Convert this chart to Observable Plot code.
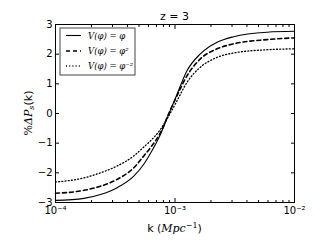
<!DOCTYPE html>
<html><head><meta charset="utf-8">
<script src="https://cdn.jsdelivr.net/npm/d3@7"></script>
<script src="https://cdn.jsdelivr.net/npm/@observablehq/plot@0.6"></script>
<style>body{margin:0;background:#fff} svg{display:block}</style>
</head><body><div id="chart"></div>
<script>
// wavenumber k (Mpc^-1)
const k = [1.0e-4, 1.73e-4, 2.38e-4, 3.28e-4, 4.52e-4, 5.48e-4, 6.24e-4, 7.57e-4, 8.87e-4, 1.04e-3, 1.26e-3, 1.63e-3, 2.25e-3, 3.10e-3, 5.90e-3, 1.0e-2];
// % Delta P_s(k) for each potential
const dpPhi   = [-2.93, -2.86, -2.73, -2.50, -2.11, -1.71, -1.34, -0.70, -0.02, 0.65, 1.44, 2.01, 2.40, 2.59, 2.74, 2.77];
const dpPhi2  = [-2.69, -2.59, -2.45, -2.22, -1.83, -1.43, -1.15, -0.64, 0.00, 0.60, 1.27, 1.84, 2.18, 2.35, 2.49, 2.55];
const dpPhiM2 = [-2.31, -2.17, -2.00, -1.77, -1.43, -1.13, -0.92, -0.53, -0.08, 0.43, 1.05, 1.56, 1.89, 2.04, 2.15, 2.18];
const seriesNames = ["V(φ) = φ", "V(φ) = φ²", "V(φ) = φ⁻²"];
const title = "z = 3";
const xTicks = [1e-4, 1e-3, 1e-2];
const xTickLabels = ["10⁻⁴", "10⁻³", "10⁻²"];
const xMinor = [2,3,4,5,6,7,8,9].flatMap(m => [m * 1e-4, m * 1e-3]);
const yTicks = [-3, -2, -1, 0, 1, 2, 3];
const yTickLabels = ["−3", "−2", "−1", "0", "1", "2", "3"];

const allSeries = [dpPhi, dpPhi2, dpPhiM2];
const data = allSeries.flatMap((vals, s) => k.map((kk, i) => ({k: kk, v: vals[i], s})));
const styles = [
  {strokeWidth: 1.1, strokeDasharray: null},
  {strokeWidth: 1.6, strokeDasharray: "4,3"},
  {strokeWidth: 1.3, strokeDasharray: "1,2.2"}
];

const lineMarks = styles.map((st, s) => Plot.line(data.filter(d => d.s === s), {
  x: "k", y: "v", curve: "monotone-x", stroke: "black",
  strokeWidth: st.strokeWidth, strokeDasharray: st.strokeDasharray
}));

const font = "DejaVu Sans";
const chart = Plot.plot({
  width: 327, height: 245,
  marginLeft: 55, marginRight: 33, marginTop: 24, marginBottom: 43,
  style: {fontFamily: font, fontSize: "10px", background: "white", color: "black", overflow: "visible"},
  x: {type: "log", domain: [1e-4, 1e-2]},
  y: {domain: [-3, 3]},
  marks: [
    ...lineMarks,
    Plot.frame({stroke: "black", strokeWidth: 1}),
    Plot.axisX(xTicks, {anchor: "bottom", tickSize: 0, tickPadding: 4.5, tickFormat: (d) => xTickLabels[xTicks.indexOf(d)], label: null, fontSize: 10}),
    Plot.axisX(xTicks, {anchor: "bottom", tickSize: -4, tickFormat: () => "", label: null}),
    Plot.axisX(xMinor, {anchor: "bottom", tickSize: -2, tickFormat: () => "", label: null}),
    Plot.axisX(xTicks, {anchor: "top", tickSize: -4, tickFormat: () => "", label: null}),
    Plot.axisX(xMinor, {anchor: "top", tickSize: -2, tickFormat: () => "", label: null}),
    Plot.axisY(yTicks, {anchor: "left", tickSize: 0, tickPadding: 3, tickFormat: (d) => yTickLabels[yTicks.indexOf(d)], label: null, fontSize: 10}),
    Plot.axisY(yTicks, {anchor: "left", tickSize: -4, tickFormat: () => "", label: null}),
    Plot.axisY(yTicks, {anchor: "right", tickSize: -4, tickFormat: () => "", label: null})
  ]
});
document.getElementById("chart").appendChild(chart);

const svg = d3.select(chart);
const sx = chart.scale("x"), sy = chart.scale("y");
const cx = (sx.apply(1e-4) + sx.apply(1e-2)) / 2;
// title
svg.append("text").attr("x", cx).attr("y", 20).attr("text-anchor", "middle")
  .attr("font-family", font).attr("font-size", 11).text(title);
// x label
const xl = svg.append("text").attr("x", cx).attr("y", 232).attr("text-anchor", "middle")
  .attr("font-family", font).attr("font-size", 11);
xl.append("tspan").text("k (");
xl.append("tspan").attr("font-family", "DejaVu Serif").attr("font-style", "italic").text("Mpc");
xl.append("tspan").attr("font-family", "DejaVu Serif").attr("font-size", 8).attr("dy", -4).text("−1");
xl.append("tspan").attr("dy", 4).text(")");
// y label
const cy = (sy.apply(-3) + sy.apply(3)) / 2;
const yl = svg.append("text").attr("transform", `translate(32,${cy}) rotate(-90)`).attr("text-anchor", "middle")
  .attr("font-family", font).attr("font-size", 11);
yl.append("tspan").attr("font-family", "DejaVu Serif").text("%");
yl.append("tspan").attr("font-family", "DejaVu Serif").attr("font-style", "italic").text("ΔP");
yl.append("tspan").attr("font-family", "DejaVu Serif").attr("font-style", "italic").attr("font-size", 8).attr("dy", 2).text("s");
yl.append("tspan").attr("dy", -2).text("(k)");
// legend
const lg = svg.append("g");
lg.append("rect").attr("x", 60).attr("y", 28).attr("width", 75).attr("height", 47)
  .attr("fill", "white").attr("stroke", "#444").attr("stroke-width", 1);
const rows = [35.5, 51, 66];
seriesNames.forEach((name, s) => {
  lg.append("line").attr("x1", 66).attr("x2", 81).attr("y1", rows[s]).attr("y2", rows[s])
    .attr("stroke", "black").attr("stroke-width", styles[s].strokeWidth)
    .attr("stroke-dasharray", styles[s].strokeDasharray);
  lg.append("text").attr("x", 88).attr("y", rows[s] + 3).attr("text-anchor", "start")
    .attr("font-family", "DejaVu Serif").attr("font-style", "italic").attr("font-size", 8.5).text(name);
});
</script></body></html>
